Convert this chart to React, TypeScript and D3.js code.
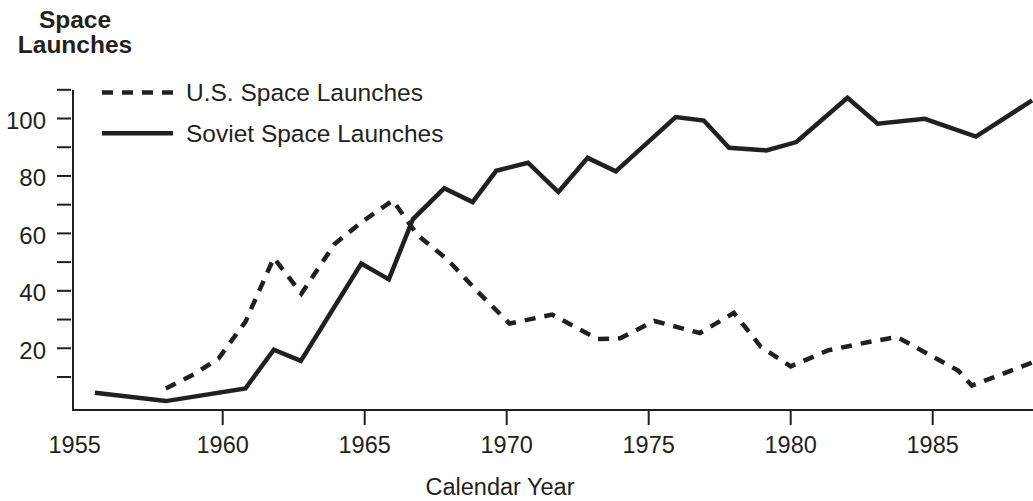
import React from 'react';
import * as d3 from 'd3';

const width = 1033;
const height = 501;
const ink = '#231f20';
const font = "'Liberation Sans', Arial, Helvetica, sans-serif";

// values (x in fractional calendar years)
const sovietYears = [1955.5, 1958.0, 1960.8, 1961.8, 1962.75, 1964.88, 1965.85, 1966.7, 1967.8, 1968.8, 1969.63, 1970.75, 1971.82, 1972.85, 1973.84, 1975.95, 1976.94, 1977.83, 1979.14, 1980.2, 1982.0, 1983.06, 1984.72, 1986.52, 1988.5];
const sovietLaunches = [4.5, 1.6, 6, 19.5, 15.6, 49.5, 44, 65, 75.7, 70.9, 81.8, 84.6, 74.4, 86.3, 81.6, 100.5, 99.3, 89.8, 88.9, 91.8, 107.2, 98.2, 99.9, 93.7, 106.3];

const usYears = [1958.0, 1959.0, 1959.85, 1960.8, 1961.8, 1962.77, 1963.94, 1964.9, 1965.99, 1966.85, 1967.9, 1968.95, 1970.1, 1971.6, 1973.2, 1974.0, 1975.2, 1976.8, 1978.0, 1978.95, 1980.0, 1981.33, 1982.75, 1983.75, 1985.9, 1986.38, 1988.5];
const usLaunches = [6, 11, 16.4, 29.2, 51.5, 39, 56.3, 64, 71.5, 59.5, 51, 40, 28.6, 31.7, 23.2, 23.5, 29.5, 25.3, 32.3, 20.5, 13.7, 19.3, 22.2, 23.9, 12.2, 7, 15];

const xTickYears = [1960, 1965, 1970, 1975, 1980, 1985];
const xLabelYears = [1955, 1960, 1965, 1970, 1975, 1980, 1985];
const yTicks = [10, 20, 30, 40, 50, 60, 70, 80, 90, 100, 110];
const yLabels = [20, 40, 60, 80, 100];

const legendItems = [
  { label: 'U.S. Space Launches', dashed: true },
  { label: 'Soviet Space Launches', dashed: false },
];

const x = d3.scaleLinear().domain([1955, 1985]).range([80.7, 932.7]);
const y = d3.scaleLinear().domain([-1.5, 110]).range([410, 89.8]);

const axisLeftX = 73;
const axisBottomY = y(-1.5);

const line = d3.line<[number, number]>()
  .x(d => x(d[0]))
  .y(d => y(d[1]));

const zip = (xs: number[], ys: number[]): [number, number][] => xs.map((v, i) => [v, ys[i]]);

export default function App() {
  const sovietPath = line(zip(sovietYears, sovietLaunches)) || '';
  const usPath = line(zip(usYears, usLaunches)) || '';

  return (
    <svg width={width} height={height}
      style={{ position: 'absolute', left: 0, top: 0, background: '#fff' }}
      fontFamily={font} fill={ink}>
      <rect width={width} height={height} fill="#fff" />

      {/* y title */}
      <text x={75} y={28} textAnchor="middle" fontSize={24.5} fontWeight="bold">Space</text>
      <text x={75} y={53} textAnchor="middle" fontSize={24.5} fontWeight="bold">Launches</text>

      {/* y axis */}
      <line x1={axisLeftX} x2={axisLeftX} y1={y(110)} y2={axisBottomY + 1} stroke={ink} strokeWidth={2} />
      {yTicks.map(t => (
        <line key={`yt${t}`} x1={57} x2={71} y1={y(t)} y2={y(t)} stroke={ink} strokeWidth={2} />
      ))}
      {yLabels.map(t => (
        <text key={`yl${t}`} x={46} y={y(t) + 10.5} textAnchor="end" fontSize={24}>{t}</text>
      ))}

      {/* x axis */}
      <line x1={axisLeftX - 1} x2={width} y1={axisBottomY} y2={axisBottomY} stroke={ink} strokeWidth={2} />
      {xTickYears.map(t => (
        <line key={`xt${t}`} x1={x(t)} x2={x(t)} y1={axisBottomY} y2={axisBottomY + 15} stroke={ink} strokeWidth={2} />
      ))}
      {xLabelYears.map(t => (
        <text key={`xl${t}`} x={x(t) - (t === 1955 ? 6 : 0)} y={453} textAnchor="middle" fontSize={23.5}>{t}</text>
      ))}
      <text x={500} y={495} textAnchor="middle" fontSize={23.5}>Calendar Year</text>

      {/* series */}
      <path d={usPath} fill="none" stroke={ink} strokeWidth={4.5} strokeDasharray="11,9" />
      <path d={sovietPath} fill="none" stroke={ink} strokeWidth={4.5} strokeLinejoin="miter" />

      {/* legend */}
      {legendItems.map((item, i) => {
        const ly = 92.5 + i * 40.8;
        return (
          <g key={item.label}>
            <line x1={102} x2={173} y1={ly} y2={ly} stroke={ink} strokeWidth={4.5}
              strokeDasharray={item.dashed ? '11,9' : undefined} />
            <text x={186} y={ly + 8.5} fontSize={24.5}>{item.label}</text>
          </g>
        );
      })}
    </svg>
  );
}
